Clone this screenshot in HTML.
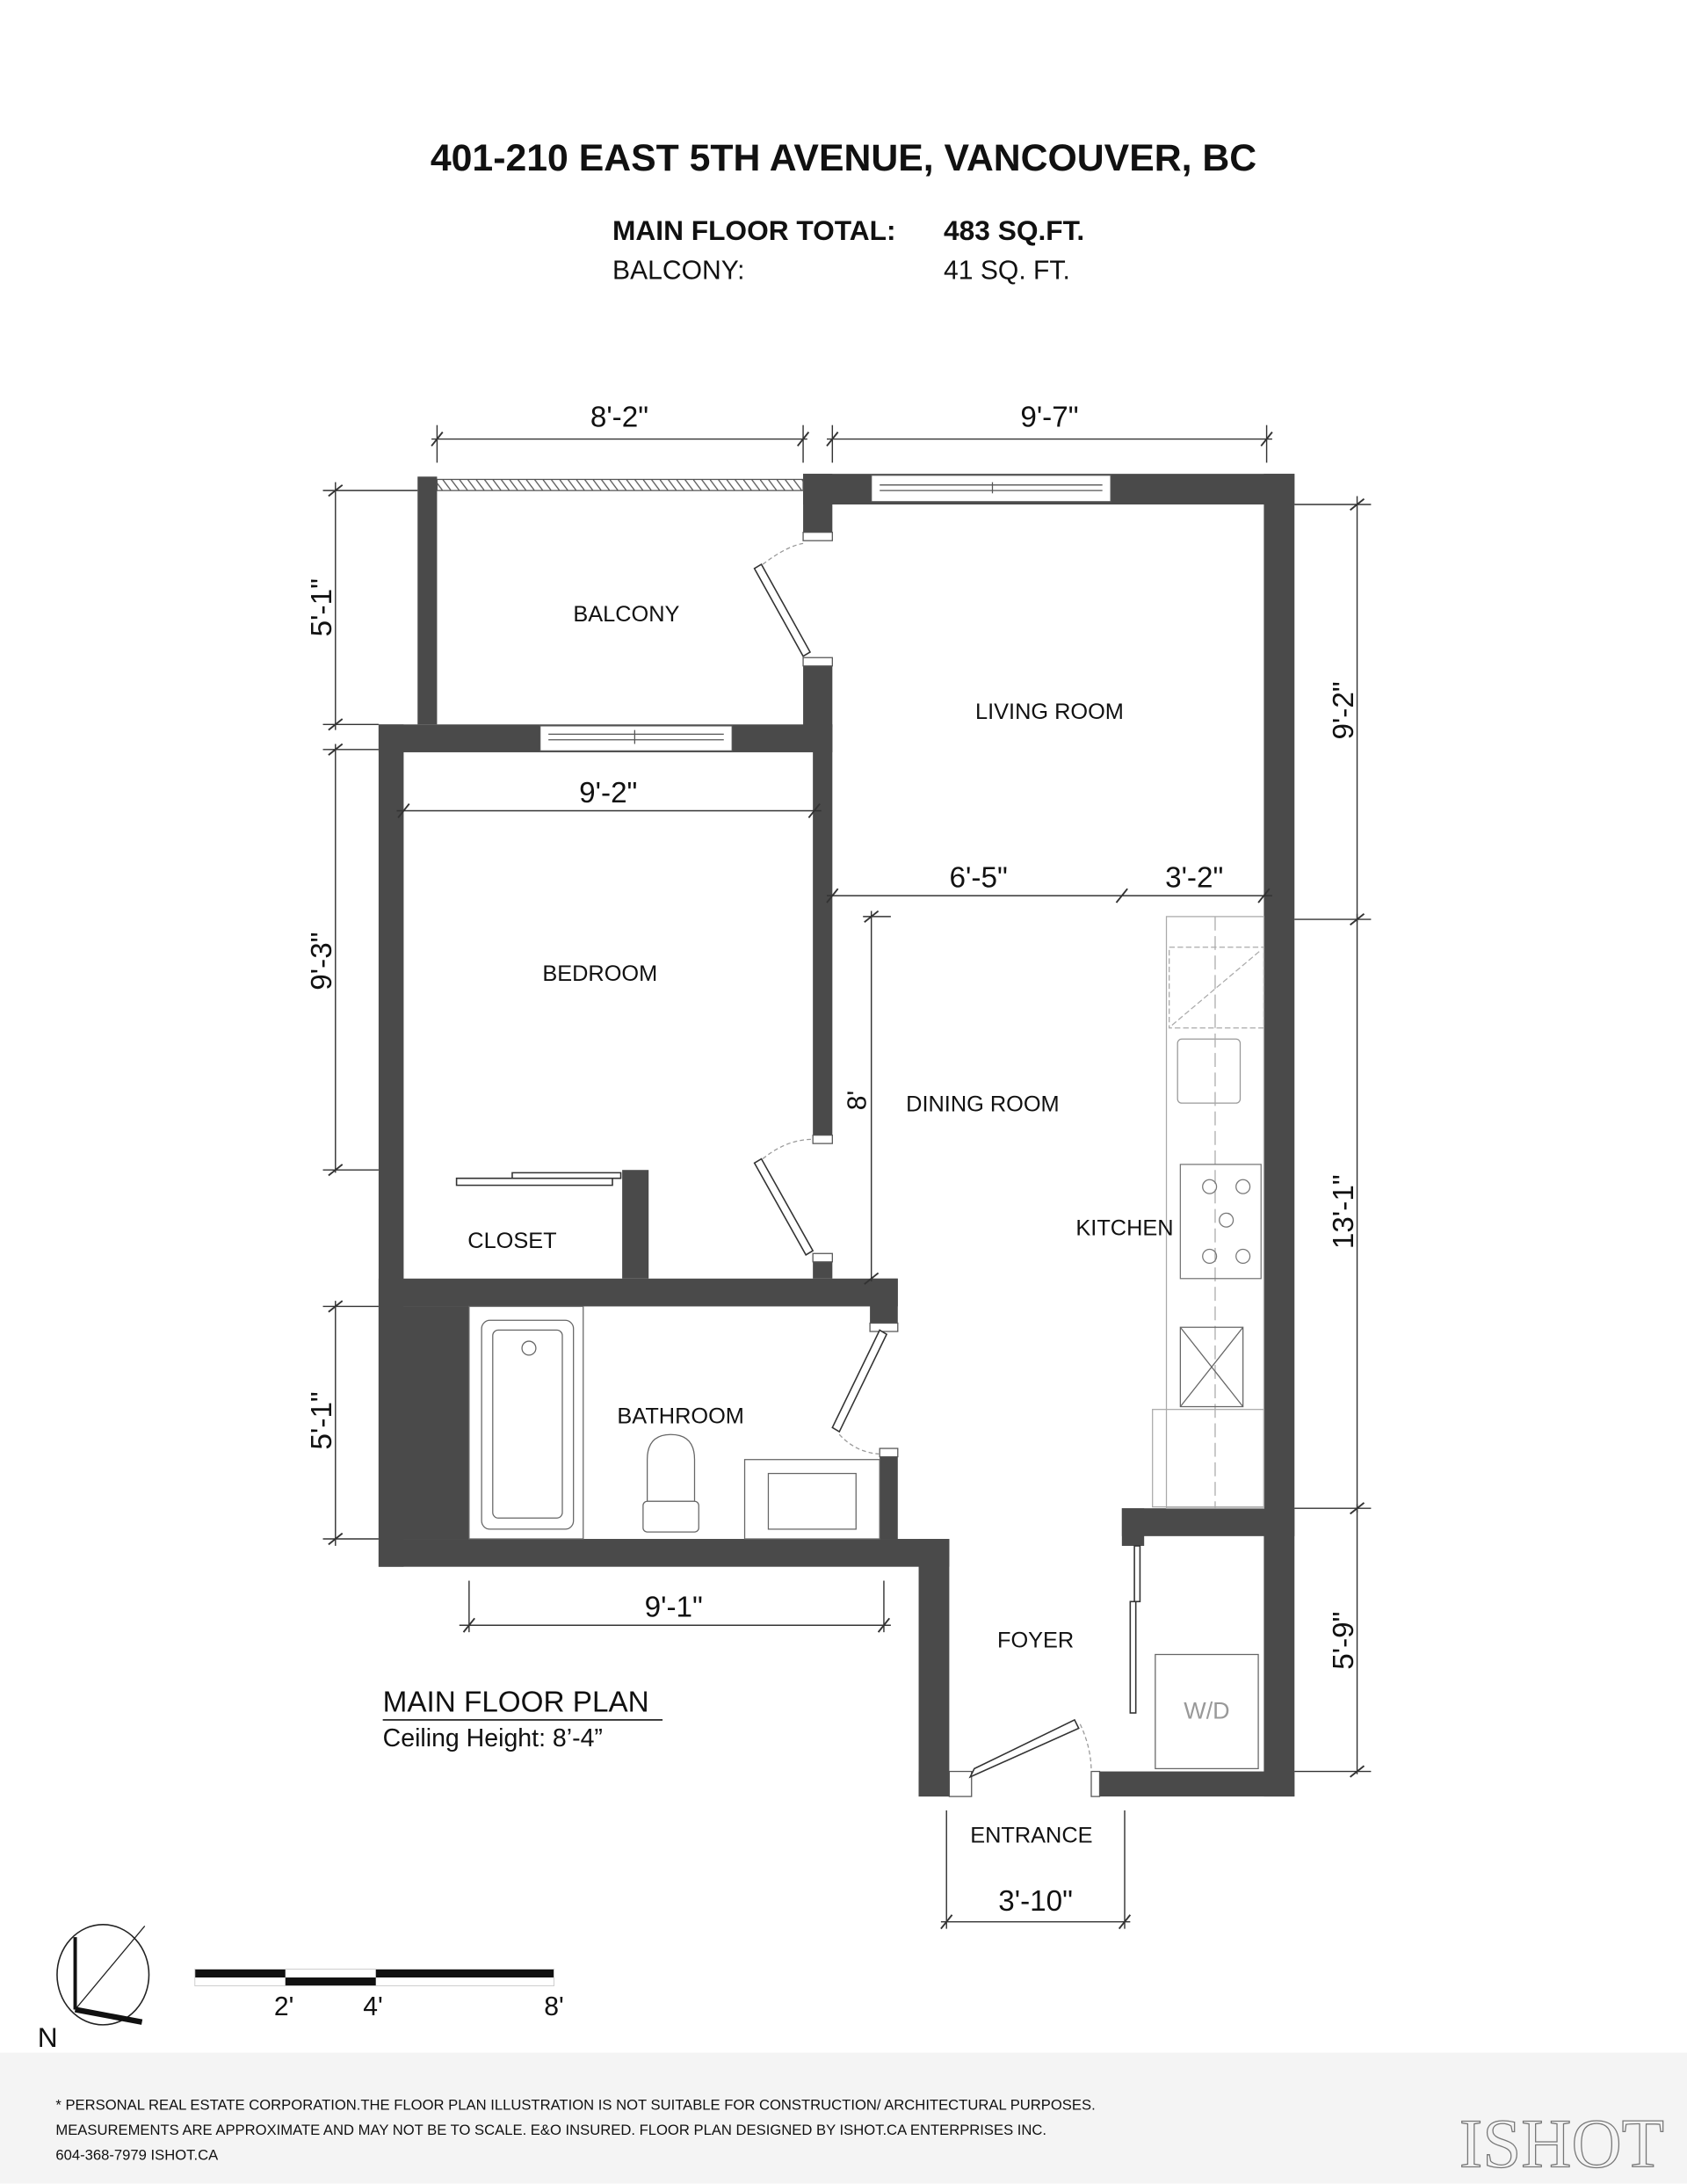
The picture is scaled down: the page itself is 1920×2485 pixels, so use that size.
<!DOCTYPE html>
<html><head><meta charset="utf-8"><style>
html,body{margin:0;padding:0;background:#fff;}
svg{display:block;}
text{font-family:"Liberation Sans",sans-serif;fill:#111;}
</style></head><body>
<svg width="1920" height="2485" viewBox="0 0 1212 1568" xmlns="http://www.w3.org/2000/svg">
<defs>
<pattern id="h" width="6" height="8" patternUnits="userSpaceOnUse"><rect width="6" height="8" fill="#fff"/><line x1="0" y1="0" x2="6" y2="8" stroke="#555" stroke-width="0.8"/></pattern>
</defs>
<rect width="1212" height="1568" fill="#fff"/>
<text x="606" y="122" font-size="27" font-weight="bold" text-anchor="middle">401-210 EAST 5TH AVENUE, VANCOUVER, BC</text>
<text x="440" y="172" font-size="20" font-weight="bold">MAIN FLOOR TOTAL:</text>
<text x="678" y="172" font-size="20" font-weight="bold">483 SQ.FT.</text>
<text x="440" y="200" font-size="19">BALCONY:</text>
<text x="678" y="200" font-size="19">41 SQ. FT.</text>

<g fill="#4a4a4a">
<rect x="300" y="342" width="14" height="178"/>
<rect x="577" y="340" width="353" height="22"/>
<rect x="577" y="340" width="21" height="42"/>
<rect x="577" y="472" width="21" height="50"/>
<rect x="584" y="520" width="14" height="295"/>
<rect x="908" y="340" width="22" height="950"/>
<rect x="272" y="520" width="326" height="20"/>
<rect x="272" y="520" width="18" height="605"/>
<rect x="272" y="938" width="65" height="167"/>
<rect x="447" y="840" width="19" height="78"/>
<rect x="272" y="918" width="373" height="20"/>
<rect x="584" y="900" width="14" height="18"/>
<rect x="625" y="918" width="20" height="32"/>
<rect x="632" y="1040" width="13" height="65"/>
<rect x="272" y="1105" width="410" height="20"/>
<rect x="660" y="1105" width="22" height="185"/>
<rect x="660" y="1272" width="38" height="18"/>
<rect x="784" y="1272" width="146" height="18"/>
<rect x="806" y="1083" width="124" height="20"/>
<rect x="806" y="1083" width="16" height="27"/>
</g>
<g fill="#fff" stroke="#555" stroke-width="0.8">
<rect x="626" y="341" width="172" height="19"/>
<rect x="388" y="521" width="138" height="18"/>
</g>
<g stroke="#555" stroke-width="0.8">
<line x1="632" y1="348" x2="792" y2="348"/><line x1="632" y1="352" x2="792" y2="352"/><line x1="713" y1="346" x2="713" y2="354"/>
<line x1="394" y1="527" x2="520" y2="527"/><line x1="394" y1="531" x2="520" y2="531"/><line x1="456" y1="524" x2="456" y2="534"/>
</g>
<rect x="314" y="344" width="263" height="8" fill="url(#h)" stroke="#555" stroke-width="0.8"/>
<g fill="#fff" stroke="#555" stroke-width="0.8">
<rect x="577" y="382" width="21" height="6"/><rect x="577" y="472" width="21" height="6"/>
<rect x="584" y="815" width="14" height="6"/><rect x="584" y="900" width="14" height="6"/>
<rect x="625" y="950" width="20" height="6"/><rect x="632" y="1040" width="13" height="6"/>
<rect x="682" y="1272" width="16" height="18"/><rect x="784" y="1272" width="6" height="18"/>
</g>
<g fill="#fff" stroke="#333" stroke-width="1">
<polygon points="542,408 547,405 582,468 577,471"/>
<polygon points="542,835 547,832 584,898 579,901"/>
<polygon points="632,955 637,958 603,1028 598,1025"/>
<polygon points="697,1276 700,1270 772,1235 775,1241"/>
<polygon points="328,846 440,846 440,851 328,851"/><polygon points="368,842 446,842 446,846 368,846"/>
<rect x="815" y="1110" width="4" height="40"/><rect x="812" y="1150" width="4" height="80"/>
</g>
<g fill="none" stroke="#999" stroke-width="0.8" stroke-dasharray="3,2">
<path d="M548,405 Q565,392 577,390"/><path d="M548,832 Q565,818 584,818"/>
<path d="M603,1030 Q615,1043 632,1044"/><path d="M776,1238 Q784,1255 784,1272"/>
</g>
<g fill="#fff" stroke="#666" stroke-width="0.8">
<rect x="337" y="938" width="82" height="167"/>
<rect x="346" y="948" width="66" height="150" rx="6"/><rect x="354" y="955" width="50" height="135" rx="4"/>
<circle cx="380" cy="968" r="5"/>
<rect x="535" y="1048" width="97" height="57"/><rect x="552" y="1058" width="63" height="40"/>
<path d="M465,1078 L465,1048 Q465,1030 482,1030 Q499,1030 499,1048 L499,1078 Z"/>
<rect x="462" y="1078" width="40" height="22" rx="3"/>
</g>
<g fill="none" stroke="#aaa" stroke-width="0.8">
<rect x="838" y="658" width="70" height="425"/>
<rect x="840" y="680" width="68" height="58" stroke-dasharray="4,2"/><line x1="842" y1="736" x2="906" y2="682" stroke-dasharray="4,2"/>
<rect x="846" y="746" width="45" height="46" rx="3" stroke="#999"/>
<line x1="873" y1="658" x2="873" y2="1083" stroke-dasharray="10,4"/>
<rect x="848" y="836" width="58" height="82" stroke="#777"/>
<circle cx="869" cy="852" r="5" stroke="#777"/><circle cx="893" cy="852" r="5" stroke="#777"/>
<circle cx="881" cy="876" r="5" stroke="#777"/><circle cx="869" cy="902" r="5" stroke="#777"/><circle cx="893" cy="902" r="5" stroke="#777"/>
<rect x="848" y="953" width="45" height="57" stroke="#666"/><line x1="848" y1="953" x2="893" y2="1010" stroke="#666"/><line x1="893" y1="953" x2="848" y2="1010" stroke="#666"/>
<rect x="828" y="1012" width="80" height="70"/>
<rect x="830" y="1188" width="74" height="82" stroke="#666"/>
</g>
<text x="867" y="1234" font-size="17" text-anchor="middle" style="fill:#999">W/D</text>
<g font-size="16" text-anchor="middle">
<text x="450" y="446">BALCONY</text>
<text x="754" y="516">LIVING ROOM</text>
<text x="431" y="704">BEDROOM</text>
<text x="706" y="798">DINING ROOM</text>
<text x="808" y="887">KITCHEN</text>
<text x="368" y="896">CLOSET</text>
<text x="489" y="1022">BATHROOM</text>
<text x="744" y="1183">FOYER</text>
<text x="741" y="1323">ENTRANCE</text>
</g>
<g stroke="#333" stroke-width="0.9" fill="none">
<line x1="310" y1="315" x2="580" y2="315"/><line x1="314" y1="305" x2="314" y2="332"/><line x1="577" y1="305" x2="577" y2="332"/>
<line x1="594" y1="315" x2="914" y2="315"/><line x1="598" y1="305" x2="598" y2="332"/><line x1="910" y1="305" x2="910" y2="332"/>
<line x1="241" y1="346" x2="241" y2="524"/><line x1="232" y1="352" x2="300" y2="352"/><line x1="232" y1="520" x2="272" y2="520"/>
<line x1="241" y1="534" x2="241" y2="842"/><line x1="232" y1="538" x2="272" y2="538"/><line x1="232" y1="840" x2="272" y2="840"/>
<line x1="241" y1="934" x2="241" y2="1110"/><line x1="232" y1="938" x2="272" y2="938"/><line x1="232" y1="1105" x2="272" y2="1105"/>
<line x1="975" y1="356" x2="975" y2="662"/><line x1="930" y1="362" x2="985" y2="362"/><line x1="930" y1="660" x2="985" y2="660"/>
<line x1="975" y1="656" x2="975" y2="1086"/><line x1="930" y1="1083" x2="985" y2="1083"/>
<line x1="975" y1="1080" x2="975" y2="1274"/><line x1="930" y1="1272" x2="985" y2="1272"/>
<line x1="285" y1="582" x2="590" y2="582"/>
<line x1="594" y1="643" x2="914" y2="643"/>
<line x1="626" y1="654" x2="626" y2="920"/><line x1="620" y1="658" x2="640" y2="658"/>
<line x1="330" y1="1167" x2="640" y2="1167"/><line x1="337" y1="1135" x2="337" y2="1172"/><line x1="635" y1="1135" x2="635" y2="1172"/>
<line x1="680" y1="1300" x2="680" y2="1385"/><line x1="808" y1="1300" x2="808" y2="1385"/><line x1="676" y1="1380" x2="812" y2="1380"/>
</g>
<g stroke="#333" stroke-width="1.2">
<line x1="310" y1="320" x2="318" y2="310"/><line x1="573" y1="320" x2="581" y2="310"/>
<line x1="594" y1="320" x2="602" y2="310"/><line x1="906" y1="320" x2="914" y2="310"/>
<line x1="286" y1="587" x2="294" y2="577"/><line x1="581" y1="587" x2="589" y2="577"/>
<line x1="594" y1="648" x2="602" y2="638"/><line x1="802" y1="648" x2="810" y2="638"/><line x1="904" y1="648" x2="912" y2="638"/>
<line x1="333" y1="1172" x2="341" y2="1162"/><line x1="631" y1="1172" x2="639" y2="1162"/>
<line x1="676" y1="1385" x2="684" y2="1375"/><line x1="804" y1="1385" x2="812" y2="1375"/>
<line x1="236" y1="356" x2="246" y2="348"/><line x1="236" y1="524" x2="246" y2="516"/><line x1="236" y1="542" x2="246" y2="534"/><line x1="236" y1="844" x2="246" y2="836"/>
<line x1="236" y1="942" x2="246" y2="934"/><line x1="236" y1="1109" x2="246" y2="1101"/>
<line x1="970" y1="366" x2="980" y2="358"/><line x1="970" y1="664" x2="980" y2="656"/><line x1="970" y1="1087" x2="980" y2="1079"/><line x1="970" y1="1276" x2="980" y2="1268"/>
<line x1="621" y1="662" x2="631" y2="654"/><line x1="621" y1="922" x2="631" y2="914"/>
</g>
<g font-size="21" text-anchor="middle">
<text x="445" y="306">8'-2"</text>
<text x="754" y="306">9'-7"</text>
<text x="437" y="576">9'-2"</text>
<text x="703" y="637">6'-5"</text>
<text x="858" y="637">3'-2"</text>
<text x="484" y="1161">9'-1"</text>
<text x="744" y="1372">3'-10"</text>
<text transform="translate(238,436) rotate(-90)">5'-1"</text>
<text transform="translate(238,690) rotate(-90)">9'-3"</text>
<text transform="translate(238,1020) rotate(-90)">5'-1"</text>
<text transform="translate(972,510) rotate(-90)">9'-2"</text>
<text transform="translate(972,870) rotate(-90)">13'-1"</text>
<text transform="translate(972,1178) rotate(-90)">5'-9"</text>
<text transform="translate(622,790) rotate(-90)" font-size="19">8'</text>
</g>
<text x="275" y="1229" font-size="21">MAIN FLOOR PLAN</text>
<line x1="275" y1="1235" x2="476" y2="1235" stroke="#333" stroke-width="1.2"/>
<text x="275" y="1254" font-size="18">Ceiling Height: 8’-4”</text>
<ellipse cx="74" cy="1418" rx="33" ry="36" fill="none" stroke="#222" stroke-width="1"/>
<line x1="54" y1="1391" x2="54" y2="1443" stroke="#111" stroke-width="2.5"/>
<line x1="54" y1="1443" x2="104" y2="1383" stroke="#222" stroke-width="0.8"/>
<line x1="54" y1="1443" x2="102" y2="1452" stroke="#111" stroke-width="4"/>
<text x="27" y="1470" font-size="20">N</text>
<rect x="140" y="1414" width="65" height="6" fill="#111"/>
<rect x="205" y="1420" width="65" height="6" fill="#111"/>
<rect x="270" y="1414" width="128" height="6" fill="#111"/>
<rect x="140" y="1414" width="258" height="12" fill="none" stroke="#ccc" stroke-width="0.6"/>
<g font-size="19" text-anchor="middle"><text x="204" y="1447">2'</text><text x="268" y="1447">4'</text><text x="398" y="1447">8'</text></g>
<rect x="0" y="1474" width="1212" height="94" fill="#f4f4f4"/>
<g font-size="10.5" fill="#222">
<text x="40" y="1515">* PERSONAL REAL ESTATE CORPORATION.THE FLOOR PLAN ILLUSTRATION IS NOT SUITABLE FOR CONSTRUCTION/ ARCHITECTURAL PURPOSES.</text>
<text x="40" y="1533">MEASUREMENTS ARE APPROXIMATE AND MAY NOT BE TO SCALE. E&amp;O INSURED. FLOOR PLAN DESIGNED BY ISHOT.CA ENTERPRISES INC.</text>
<text x="40" y="1551">604-368-7979  ISHOT.CA</text>
</g>
<text x="1122" y="1556" font-size="50" text-anchor="middle" style="fill:none;stroke:#777;stroke-width:0.8;font-family:'Liberation Serif',serif">ISHOT</text>
</svg>
</body></html>
